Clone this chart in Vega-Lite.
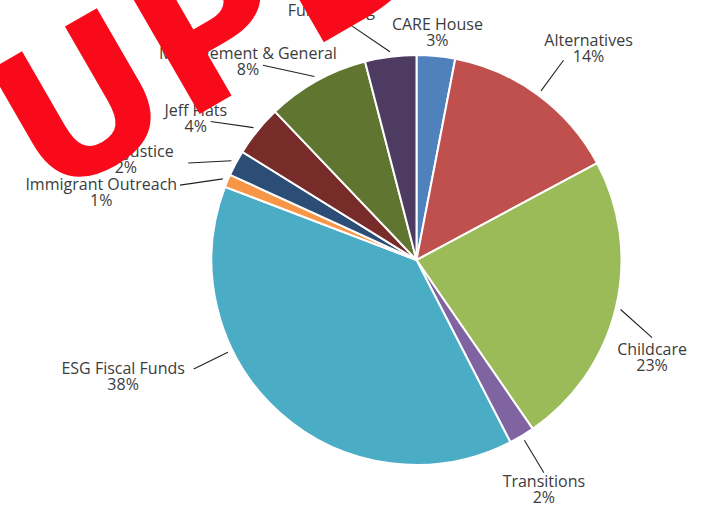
{
  "$schema": "https://vega.github.io/schema/vega-lite/v6.json",
  "width": 581,
  "height": 498,
  "autosize": {"type": "none"},
  "padding": {"left": 126, "top": 11, "right": 0, "bottom": 0},
  "background": "white",
  "config": {"view": {"stroke": null}},
  "title": {
    "text": "UPDATED",
    "orient": "none",
    "anchor": "start",
    "frame": "group",
    "angle": -30,
    "align": "left",
    "baseline": "alphabetic",
    "font": "DejaVu Sans",
    "fontSize": 196,
    "fontWeight": 700,
    "color": "#F90A1A",
    "dx": -165,
    "dy": 126,
    "offset": 0,
    "zindex": 1
  },
  "data": {
    "values": [
      {"name": "CARE House", "value": 3},
      {"name": "Alternatives", "value": 14},
      {"name": "Childcare", "value": 23},
      {"name": "Transitions", "value": 2},
      {"name": "ESG Fiscal Funds", "value": 38},
      {"name": "Immigrant Outreach", "value": 1},
      {"name": "Racial Justice", "value": 2},
      {"name": "Jeff Flats", "value": 4},
      {"name": "Management & General", "value": 8},
      {"name": "Fundraising", "value": 4}
    ]
  },
  "transform": [
    {"window": [{"op": "row_number", "as": "idx"}]},
    {"joinaggregate": [{"op": "sum", "field": "value", "as": "total"}]},
    {"window": [{"op": "sum", "field": "value", "as": "cum"}], "sort": [{"field": "idx"}], "frame": [null, 0]},
    {"calculate": "2*PI*(datum.cum - datum.value)/datum.total", "as": "a0"},
    {"calculate": "2*PI*datum.cum/datum.total", "as": "a1"},
    {"calculate": "(datum.a0 + datum.a1)/2", "as": "mid"},
    {"calculate": "datum.mid*180/PI", "as": "deg"},
    {"calculate": "datum.value > 30 ? datum.a0 + 0.66*(datum.a1 - datum.a0) : (datum.mid >= PI ? datum.mid - (datum.deg < 315 ? 0.09 : 0.16) : (datum.mid >= PI/2 && datum.mid < 2.2 ? datum.mid + 0.08 : datum.mid))", "as": "la"},
    {"calculate": "datum.value > 30 ? datum.la : datum.mid", "as": "ia"},
    {"calculate": "width/2", "as": "cx"},
    {"calculate": "height/2", "as": "cy"},
    {"calculate": "datum.cx + 210*sin(datum.ia)", "as": "ix"},
    {"calculate": "datum.cy - 210*cos(datum.ia)", "as": "iy"},
    {"calculate": "datum.mid < 0.2 ? 220 : 248", "as": "er"},
    {"calculate": "datum.cx + datum.er*sin(datum.la)", "as": "ex"},
    {"calculate": "datum.cy - datum.er*cos(datum.la)", "as": "ey"},
    {"calculate": "length(datum.name)*8.2", "as": "w"},
    {"calculate": "datum.mid < 0.2 ? datum.ex : datum.mid < PI/2 ? datum.ex + 25 : datum.mid < PI ? datum.ex : datum.deg < 305 ? datum.ex - 5 - datum.w/2 : datum.ex - 15", "as": "bx"},
    {"calculate": "datum.mid < 0.2 ? datum.ey - 16 : datum.mid < PI/2 ? datum.ey - 19 : datum.mid < PI ? min(datum.ey + 12, height - 27) : datum.deg < 295 ? datum.ey : datum.ey - 11", "as": "by"},
    {"calculate": "datum.by + 16", "as": "py"},
    {"calculate": "datum.value + '%'", "as": "pct"}
  ],
  "layer": [
    {
      "mark": {"type": "arc", "radius": 205, "stroke": "white", "strokeWidth": 2},
      "encoding": {
        "theta": {"field": "a0", "type": "quantitative", "scale": null},
        "theta2": {"field": "a1"},
        "color": {
          "field": "name",
          "type": "nominal",
          "scale": {
            "domain": ["CARE House", "Alternatives", "Childcare", "Transitions", "ESG Fiscal Funds", "Immigrant Outreach", "Racial Justice", "Jeff Flats", "Management & General", "Fundraising"],
            "range": ["#4F81BD", "#C0504D", "#9BBB59", "#8064A2", "#4BACC6", "#F79646", "#2C4D75", "#772C2A", "#5F7530", "#4D3B62"]
          },
          "legend": null
        }
      }
    },
    {
      "transform": [{"filter": "datum.mid >= 0.2"}],
      "mark": {"type": "rule", "color": "#222222", "strokeWidth": 1.1},
      "encoding": {
        "x": {"field": "ix", "type": "quantitative", "scale": null},
        "y": {"field": "iy", "type": "quantitative", "scale": null},
        "x2": {"field": "ex"},
        "y2": {"field": "ey"}
      }
    },
    {
      "mark": {"type": "text", "align": "center", "baseline": "middle", "font": "Open Sans", "fontSize": 16, "color": "#3c3c3c"},
      "encoding": {
        "x": {"field": "bx", "type": "quantitative", "scale": null},
        "y": {"field": "by", "type": "quantitative", "scale": null},
        "text": {"field": "name"}
      }
    },
    {
      "mark": {"type": "text", "align": "center", "baseline": "middle", "font": "Open Sans", "fontSize": 16, "color": "#3c3c3c"},
      "encoding": {
        "x": {"field": "bx", "type": "quantitative", "scale": null},
        "y": {"field": "py", "type": "quantitative", "scale": null},
        "text": {"field": "pct"}
      }
    }
  ]
}
